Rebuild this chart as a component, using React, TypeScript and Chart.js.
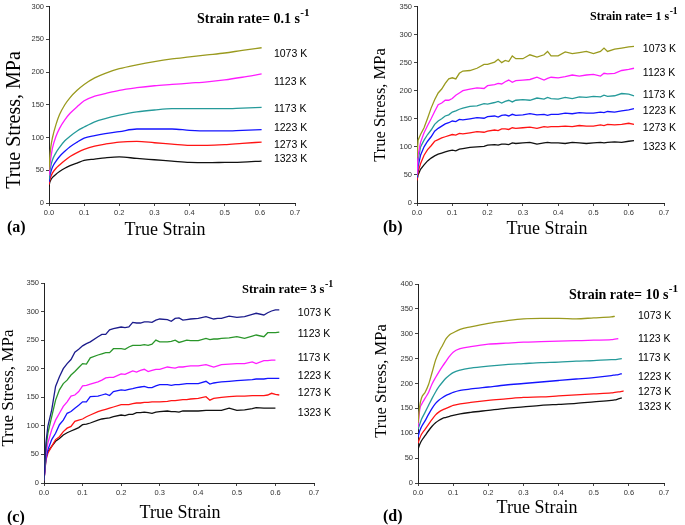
import React, { useEffect, useRef } from "react";
import { Chart, registerables } from "chart.js";
Chart.register(...registerables);

const TEMPS = ["1073 K", "1123 K", "1173 K", "1223 K", "1273 K", "1323 K"];

// ---------- (a) strain rate 0.1 s-1 ----------
const strainA = [0, 0.002, 0.005, 0.01, 0.02, 0.03, 0.045, 0.06, 0.08, 0.1, 0.13, 0.16, 0.2, 0.25, 0.3, 0.35, 0.4, 0.45, 0.5, 0.55, 0.605];
const a1073 = [50, 68, 85, 100, 120, 135, 150, 161, 172, 181, 191, 198, 205, 211, 216, 220, 223, 226, 229, 233, 237];
const a1123 = [42, 55, 68, 84, 102, 114, 127, 137, 147, 156, 163, 167, 172, 176, 179, 181, 183, 185, 188, 192, 197];
const a1173 = [36, 46, 56, 66, 77, 85, 95, 102, 110, 116, 124, 129, 134, 139, 142, 144, 144, 144, 144, 145, 146];
const a1223 = [32, 40, 47, 55, 64, 71, 79, 86, 93, 99, 103, 106, 109, 113, 113, 113, 111, 110, 110, 111, 112];
const a1273 = [28, 34, 40, 46, 53, 58, 65, 71, 77, 82, 87, 90, 93, 94, 92, 90, 88, 88, 89, 91, 93];
const a1323 = [25, 31, 35, 39, 44, 48, 53, 57, 61, 65, 67, 69, 70.5, 68, 66, 64, 62, 61.5, 62, 62.5, 64];
const labelStressA = [227, 185, 144, 115, 89, 67];

// ---------- (b) strain rate 1 s-1 ----------
const strainB = [0, 0.003, 0.01, 0.02, 0.03, 0.04, 0.05, 0.06, 0.07, 0.08, 0.09, 0.1, 0.11, 0.12, 0.13, 0.15, 0.17, 0.19, 0.2, 0.22, 0.23, 0.24, 0.25, 0.26, 0.27, 0.28, 0.3, 0.32, 0.34, 0.36, 0.37, 0.38, 0.4, 0.42, 0.44, 0.46, 0.48, 0.5, 0.52, 0.53, 0.54, 0.56, 0.58, 0.6, 0.615];
const b1073 = [80, 112, 122, 134, 151, 169, 184, 196, 203, 213, 221, 223, 221, 231, 235, 236, 240, 247, 247, 251, 256, 250, 254, 252, 262, 257, 257, 264, 260, 264, 270, 262, 262, 269, 266, 268, 270, 266, 270, 276, 270, 274, 276, 278, 279];
const b1123 = [50, 85, 108, 125, 138, 150, 163, 175, 178, 183, 183, 186, 192, 196, 200, 203, 205, 204, 209, 211, 213, 212, 216, 219, 215, 218, 219, 220, 224, 219, 222, 224, 223, 225, 228, 226, 228, 229, 226, 231, 230, 231, 236, 238, 240];
const b1173 = [48, 75, 100, 112, 122, 130, 140, 146, 150, 155, 157, 162, 164, 167, 169, 172, 173, 177, 176, 179, 181, 178, 181, 183, 180, 183, 184, 183, 187, 185, 188, 186, 185, 188, 186, 189, 188, 190, 189, 192, 190, 191, 195, 194, 191];
const b1223 = [45, 65, 85, 100, 110, 118, 128, 133, 137, 141, 143, 146, 145, 149, 148, 150, 152, 151, 154, 155, 153, 156, 157, 155, 158, 156, 157, 159, 157, 158, 156, 158, 158, 160, 159, 161, 160, 160, 162, 161, 163, 162, 164, 166, 168];
const b1273 = [40, 55, 70, 85, 95, 102, 110, 113, 116, 118, 120, 122, 121, 124, 123, 125, 127, 126, 128, 130, 129, 132, 132, 131, 134, 133, 134, 135, 133, 136, 135, 136, 136, 137, 136, 138, 137, 137, 139, 138, 140, 139, 140, 142, 140];
const b1323 = [40, 50, 60, 68, 75, 80, 84, 87, 89, 91, 93, 94, 93, 96, 97, 99, 100, 101, 103, 104, 103, 105, 105, 104, 107, 106, 107, 108, 105, 107, 108, 107, 107, 106, 108, 107, 106, 107, 108, 107, 108, 109, 108, 110, 111];
const labelStressB = [274, 232, 193, 164, 134, 100];

// ---------- (c) strain rate 3 s-1 ----------
const strainC = [0, 0.005, 0.01, 0.02, 0.03, 0.04, 0.05, 0.06, 0.07, 0.08, 0.09, 0.1, 0.11, 0.12, 0.14, 0.15, 0.16, 0.17, 0.18, 0.2, 0.21, 0.22, 0.23, 0.24, 0.25, 0.26, 0.27, 0.28, 0.29, 0.3, 0.32, 0.33, 0.34, 0.35, 0.36, 0.37, 0.38, 0.4, 0.42, 0.43, 0.44, 0.45, 0.46, 0.48, 0.5, 0.52, 0.54, 0.55, 0.57, 0.58, 0.59, 0.6, 0.61];
const c1073 = [5, 70, 99, 128, 169, 186, 200, 209, 216, 229, 234, 240, 244, 247, 256, 260, 260, 268, 270, 273, 272, 273, 281, 280, 280, 282, 282, 281, 285, 287, 286, 283, 288, 289, 285, 286, 287, 288, 291, 289, 287, 288, 288, 292, 290, 291, 295, 297, 294, 298, 301, 303, 303];
const c1123 = [5, 60, 87, 116, 145, 163, 174, 180, 189, 195, 202, 209, 208, 219, 224, 226, 228, 228, 235, 235, 234, 238, 241, 241, 241, 242, 241, 243, 250, 247, 247, 248, 250, 246, 248, 250, 249, 249, 253, 251, 252, 252, 253, 254, 256, 253, 257, 259, 256, 263, 263, 263, 264];
const c1173 = [5, 50, 70, 93, 110, 122, 134, 142, 152, 154, 160, 170, 171, 173, 177, 180, 184, 185, 185, 191, 190, 193, 196, 194, 197, 199, 195, 197, 199, 199, 203, 202, 201, 203, 203, 204, 205, 205, 207, 205, 203, 205, 207, 208, 209, 209, 212, 209, 214, 214, 215, 215, null];
const c1223 = [5, 42, 58, 76, 87, 102, 110, 122, 125, 131, 136, 142, 142, 151, 152, 154, 156, 153, 160, 163, 162, 164, 165, 167, 168, 169, 167, 167, 170, 172, 172, 171, 172, 172, 173, 174, 174, 174, 178, 173, 175, 176, 177, 178, 179, 180, 181, 182, 182, 183, 183, 183, 183];
const c1273 = [5, 40, 52, 64, 76, 81, 90, 96, 99, 108, 110, 112, 116, 119, 125, 127, 129, 131, 133, 137, 137, 137, 139, 140, 140, 141, 141, 142, 142, 142, 143, 144, 144, 145, 146, 146, 147, 148, 151, 145, 148, 149, 150, 151, 152, 152, 153, 153, 153, 154, 157, 155, 154];
const c1323 = [5, 45, 55, 64, 73, 78, 84, 88, 91, 94, 97, 102, 103, 105, 110, 112, 113, 114, 116, 119, 118, 120, 120, 123, 123, 124, 123, 122, 124, 125, 126, 125, 125, 124, 126, 126, 126, 126, 127, 127, 127, 127, 127, 131, 127, 128, 130, 132, 131, 131, 131, 131, null];
const labelStressC = [297, 261, 219, 187, 157, 122];

// ---------- (d) strain rate 10 s-1 ----------
const strainD = [0, 0.005, 0.01, 0.02, 0.03, 0.04, 0.05, 0.06, 0.07, 0.08, 0.09, 0.1, 0.12, 0.15, 0.2, 0.25, 0.3, 0.35, 0.4, 0.45, 0.5, 0.55, 0.56, 0.57, 0.58, 0.585];
const d1073 = [120, 155, 171, 182, 198, 222, 247, 264, 277, 290, 298, 302, 309, 314, 321, 326, 330, 331, 331, 330, 332, 334, 335, null, null, null];
const d1123 = [112, 148, 158, 170, 182, 199, 212, 224, 235, 245, 255, 263, 270, 274, 279, 281, 283, 284, 285, 286, 287, 288, 289, 290, null, null];
const d1173 = [108, 118, 128, 142, 156, 170, 183, 194, 203, 211, 217, 222, 227, 231, 235, 238, 240, 242, 243, 245, 246, 248, 248, 249, 250, null];
const d1223 = [92, 105, 113, 125, 138, 150, 160, 167, 172, 176, 179, 182, 186, 189, 193, 197, 200, 203, 206, 209, 212, 216, 217, 218, 220, null];
const d1273 = [80, 90, 98, 108, 118, 128, 137, 143, 147, 150, 153, 156, 159, 162, 166, 169, 172, 173, 175, 177, 179, 181, 182, 183, 184, 185];
const d1323 = [68, 78, 85, 95, 105, 114, 121, 126, 130, 132, 134, 136, 139, 142, 146, 150, 153, 156, 158, 160, 163, 166, 167, 169, 171, null];
const labelStressD = [336, 289, 251, 213, 183, 153];

const COLORS_STD = ["#9a9a1e", "#ff1cff", "#259a9a", "#1414ff", "#ff1414", "#111111"];
const COLORS_C = ["#1c1c8c", "#2a962a", "#ff1cff", "#1414ff", "#ff1414", "#111111"];

type PanelCfg = {
  letter: string;
  rate: string;
  strain: number[];
  series: (number | null)[][];
  colors: string[];
  yMax: number;
  smooth: boolean;
  labelStrain: number;
  labelStress: number[];
  box: { left: number; top: number; width: number; height: number };
  plot: { left: number; top: number; right: number; bottom: number };
  yTitle: { x: number; y: number; size: number };
  xTitle: { x: number; y: number; size: number };
  letterPos: { x: number; y: number };
  rateTitle: { x: number; y: number; size: number };
};

const PANELS: PanelCfg[] = [
  {
    letter: "(a)", rate: "0.1", strain: strainA,
    series: [a1073, a1123, a1173, a1223, a1273, a1323], colors: COLORS_STD,
    yMax: 300, smooth: true, labelStrain: 0.64, labelStress: labelStressA,
    box: { left: 0, top: 0, width: 340, height: 255 },
    plot: { left: 49, top: 5, right: 295, bottom: 203 },
    yTitle: { x: 15, y: 120, size: 20 }, xTitle: { x: 165, y: 230, size: 18 },
    letterPos: { x: 7, y: 228 }, rateTitle: { x: 197, y: 19, size: 14 },
  },
  {
    letter: "(b)", rate: "1", strain: strainB,
    series: [b1073, b1123, b1173, b1223, b1273, b1323], colors: COLORS_STD,
    yMax: 350, smooth: false, labelStrain: 0.64, labelStress: labelStressB,
    box: { left: 340, top: 0, width: 345, height: 255 },
    plot: { left: 77, top: 4, right: 324, bottom: 203 },
    yTitle: { x: 41, y: 105, size: 16.5 }, xTitle: { x: 207, y: 229, size: 18 },
    letterPos: { x: 43, y: 228 }, rateTitle: { x: 250, y: 17, size: 12 },
  },
  {
    letter: "(c)", rate: "3", strain: strainC,
    series: [c1073, c1123, c1173, c1223, c1273, c1323], colors: COLORS_C,
    yMax: 350, smooth: false, labelStrain: 0.658, labelStress: labelStressC,
    box: { left: 0, top: 270, width: 340, height: 255 },
    plot: { left: 44, top: 13, right: 314, bottom: 213 },
    yTitle: { x: 9, y: 118, size: 17 }, xTitle: { x: 180, y: 243, size: 18 },
    letterPos: { x: 7, y: 248 }, rateTitle: { x: 242, y: 20, size: 12.5 },
  },
  {
    letter: "(d)", rate: "10", strain: strainD,
    series: [d1073, d1123, d1173, d1223, d1273, d1323], colors: COLORS_STD,
    yMax: 400, smooth: true, labelStrain: 0.626, labelStress: labelStressD,
    box: { left: 340, top: 270, width: 345, height: 255 },
    plot: { left: 78, top: 14, right: 324, bottom: 213 },
    yTitle: { x: 42, y: 111, size: 16.5 }, xTitle: { x: 197, y: 238, size: 18 },
    letterPos: { x: 43, y: 247 }, rateTitle: { x: 229, y: 25, size: 14 },
  },
];

const SERIF = '"Liberation Serif", "Times New Roman", serif';
const SANS = '"Liberation Sans", Arial, sans-serif';

function makePoints(strain: number[], vals: (number | null)[]) {
  const out: { x: number; y: number }[] = [];
  strain.forEach((x, i) => {
    const y = vals[i];
    if (y !== null && y !== undefined) out.push({ x, y });
  });
  return out;
}

function Panel({ cfg }: { cfg: PanelCfg }) {
  const ref = useRef<HTMLCanvasElement | null>(null);
  useEffect(() => {
    if (!ref.current) return;
    const { plot, box } = cfg;
    const textPlugin = {
      id: "panelText",
      afterDraw(chart: any) {
        const ctx = chart.ctx as CanvasRenderingContext2D;
        const xs = chart.scales.x;
        const ys = chart.scales.y;
        ctx.save();
        ctx.fillStyle = "#000";
        ctx.textBaseline = "middle";
        ctx.textAlign = "left";
        ctx.font = `10.5px ${SANS}`;
        cfg.labelStress.forEach((v, i) => {
          ctx.fillText(TEMPS[i], xs.getPixelForValue(cfg.labelStrain), ys.getPixelForValue(v));
        });
        // strain rate title
        const rt = cfg.rateTitle;
        ctx.font = `bold ${rt.size}px ${SERIF}`;
        const main = `Strain rate= ${cfg.rate} s`;
        ctx.fillText(main, rt.x, rt.y);
        const w = ctx.measureText(main).width;
        ctx.font = `bold ${rt.size * 0.8}px ${SERIF}`;
        ctx.fillText("-1", rt.x + w + 0.5, rt.y - rt.size * 0.42);
        // x title
        ctx.font = `${cfg.xTitle.size}px ${SERIF}`;
        ctx.textAlign = "center";
        ctx.fillText("True Strain", cfg.xTitle.x, cfg.xTitle.y);
        // panel letter
        ctx.font = `bold 16px ${SERIF}`;
        ctx.textAlign = "left";
        ctx.fillText(cfg.letter, cfg.letterPos.x, cfg.letterPos.y);
        // y title
        ctx.translate(cfg.yTitle.x, cfg.yTitle.y);
        ctx.rotate(-Math.PI / 2);
        ctx.textAlign = "center";
        ctx.font = `${cfg.yTitle.size}px ${SERIF}`;
        ctx.fillText("True Stress, MPa", 0, 0);
        ctx.restore();
      },
    };
    const tickFont = { family: SANS, size: 7.5 };
    const chart = new Chart(ref.current, {
      type: "line",
      data: {
        datasets: cfg.series.map((s, i) => ({
          label: TEMPS[i],
          data: makePoints(cfg.strain, s),
          borderColor: cfg.colors[i],
          backgroundColor: cfg.colors[i],
          borderWidth: 1.3,
          pointRadius: 0,
          fill: false,
          tension: cfg.smooth ? 0.4 : 0,
          cubicInterpolationMode: cfg.smooth ? "monotone" : "default",
        })),
      },
      options: {
        animation: false,
        responsive: false,
        devicePixelRatio: 1,
        events: [],
        layout: {
          padding: { left: 0, top: plot.top, right: box.width - plot.right, bottom: 0 },
        },
        plugins: { legend: { display: false }, tooltip: { enabled: false } },
        scales: {
          x: {
            type: "linear",
            min: 0,
            max: 0.7,
            afterFit: (s: any) => { s.height = box.height - plot.bottom; },
            ticks: {
              stepSize: 0.1,
              font: tickFont,
              color: "#333",
              padding: 2,
              maxRotation: 0,
              callback: (v: any) => Number(v).toFixed(1),
            },
            grid: { display: true, drawOnChartArea: false, drawTicks: true, tickLength: 3, color: "#444" },
            border: { display: true, color: "#222", width: 1 },
          },
          y: {
            type: "linear",
            min: 0,
            max: cfg.yMax,
            afterFit: (s: any) => { s.width = plot.left; },
            ticks: { stepSize: 50, font: tickFont, color: "#333", padding: 2 },
            grid: { display: true, drawOnChartArea: false, drawTicks: true, tickLength: 3, color: "#444" },
            border: { display: true, color: "#222", width: 1 },
          },
        },
      },
      plugins: [textPlugin],
    } as any);
    return () => chart.destroy();
  }, [cfg]);
  return (
    <canvas
      ref={ref}
      width={cfg.box.width}
      height={cfg.box.height}
      style={{
        position: "absolute",
        left: cfg.box.left,
        top: cfg.box.top,
        width: cfg.box.width,
        height: cfg.box.height,
      }}
    />
  );
}

export default function App() {
  return (
    <div style={{ position: "fixed", left: 0, top: 0, width: 685, height: 525, background: "#fff", overflow: "hidden" }}>
      {PANELS.map((p) => (
        <Panel key={p.letter} cfg={p} />
      ))}
    </div>
  );
}
